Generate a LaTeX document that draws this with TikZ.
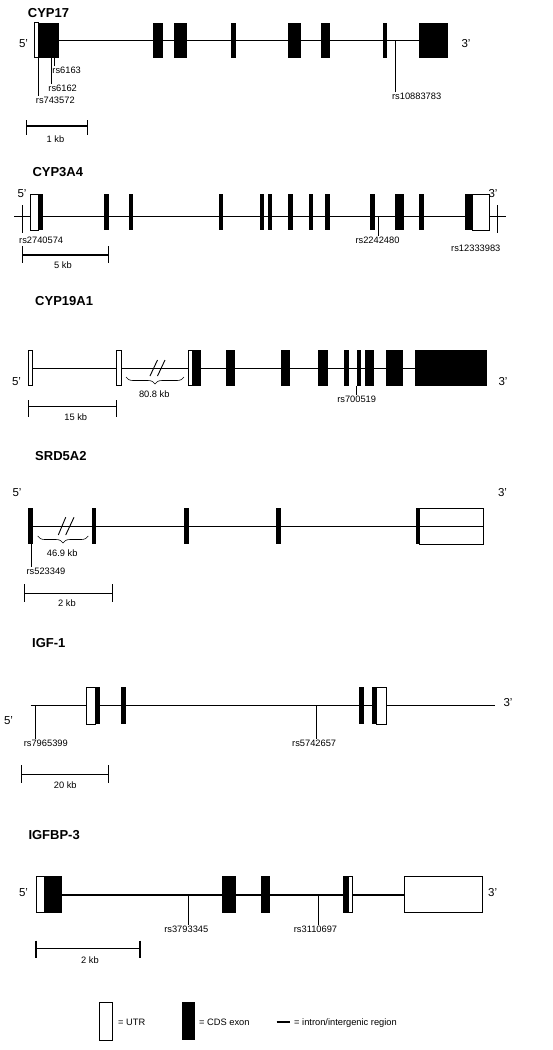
\documentclass[tikz,border=0pt]{standalone}
\usepackage{fontspec}
\setmainfont{Liberation Sans}
\usetikzlibrary{decorations.pathreplacing}

\begin{document}
\begin{tikzpicture}[x=1pt,y=-1pt,
  utr/.style={draw,fill=white,line width=0.8pt},
  cds/.style={fill=black},
  intron/.style={line width=1.1pt},
  snp/.style={line width=0.7pt},
  scalebar/.style={line width=1.2pt},
  cut/.style={line width=0.9pt},
  gap/.style={decorate,decoration={brace,mirror,amplitude=7pt},line width=0.6pt},
  genename/.style={font=\fontsize{13}{15}\selectfont\bfseries,anchor=west,inner sep=0pt},
  prime/.style={font=\fontsize{11.5}{13}\selectfont,inner sep=0pt},
  snplabel/.style={font=\fontsize{9.3}{11}\selectfont,inner sep=1pt}]
  \useasboundingbox (0,0) rectangle (552,1050);
  \fill[white] (0,0) rectangle (552,1050);

  % CYP17
  \node[genename] (cyp17) at (27.7,12.8) {CYP17};
  \node[prime] (cyp17five) at (23.5,44) {5'};
  \node[prime] (cyp17three) at (466,44) {3'};
  \draw[intron] (59.3,40.7) -- (419.3,40.7);
  \draw[utr] (34.3,22.7) rectangle (38.7,57.7);
  \foreach \a/\b in {38.7/59.3,153.3/162.7,173.7/186.7,230.7/236,288.3/301,321/330,382.7/387.3,419.3/448.3}
    \fill[cds] (\a,22.7) rectangle (\b,57.7);
  \node[snplabel] (rs6163) at (66.7,70.7) {rs6163};
  \node[snplabel] (rs6162) at (62.7,88) {rs6162};
  \node[snplabel] (rs743572) at (55.3,100.7) {rs743572};
  \node[snplabel] (rs10883783) at (416.7,96.7) {rs10883783};
  \draw[snp] (54.3,57.7) -- (54.3,57.7 |- rs6163.north);
  \draw[snp] (51,57.7) -- (51,57.7 |- rs6162.north);
  \draw[snp] (38.7,57.7) -- (38.7,57.7 |- rs743572.north);
  \draw[snp] (395,40.7) -- (395,40.7 |- rs10883783.north);
  \draw[scalebar] (26.7,120) -- (26.7,135) (26.7,126) -- (87.7,126) (87.7,120) -- (87.7,135);
  \node[snplabel] (kb17) at (55.5,139.5) {1 kb};

  % CYP3A4
  \node[genename] (cyp3a4) at (32.3,172.5) {CYP3A4};
  \node[prime] (cyp3a4five) at (22,193.3) {5'};
  \node[prime] (cyp3a4three) at (493,193.3) {3'};
  \draw[intron] (14.3,216.7) -- (506,216.7);
  \draw[utr] (30.7,194) rectangle (38.7,230);
  \draw[utr] (472.7,194) rectangle (489.3,230);
  \foreach \a/\b in {38.7/43.3,104/108.7,128.7/133.3,218.7/223.3,259.7/264.3,267.7/272.3,288.3/293.3,308.7/313.3,325/330,370.3/375,395.3/404,419.3/424,465/472.7}
    \fill[cds] (\a,194) rectangle (\b,230);
  \node[snplabel] (rs2740574) at (41.2,240) {rs2740574};
  \node[snplabel] (rs2242480) at (377.5,240) {rs2242480};
  \node[snplabel] (rs12333983) at (475.8,248.3) {rs12333983};
  \draw[snp] (22.3,205) -- (22.3,232.7);
  \draw[snp] (378.3,216.7) -- (378.3,216.7 |- rs2242480.north);
  \draw[snp] (497.3,205) -- (497.3,233);
  \draw[scalebar] (22.3,246) -- (22.3,263.3) (22.3,255) -- (108.3,255) (108.3,246) -- (108.3,263.3);
  \node[snplabel] (kb3a4) at (63,264.7) {5 kb};

  % CYP19A1
  \node[genename] (cyp19a1) at (35,301) {CYP19A1};
  \node[prime] (cyp19five) at (16.5,381.7) {5'};
  \node[prime] (cyp19three) at (503,381.7) {3'};
  \draw[intron] (30.7,368.3) -- (415.3,368.3);
  \draw[cut] (150,376) -- (157.5,360) (157.5,376) -- (165,360);
  \foreach \a/\b in {28.3/32.7,116.7/121.3,188.7/192.3}
    \draw[utr] (\a,350) rectangle (\b,385.7);
  \foreach \a/\b in {192.3/201.3,226/235,280.7/289.7,318.3/327.7,343.7/348.7,356.7/361,365/373.7,386/403,415.3/487.3}
    \fill[cds] (\a,350) rectangle (\b,385.7);
  \draw[gap] (126,377) -- (184,377);
  \node[snplabel] (gap19) at (154.3,394.3) {80.8 kb};
  \node[snplabel] (rs700519) at (356.7,399) {rs700519};
  \draw[snp] (356.7,385.7) -- (rs700519.north);
  \draw[scalebar] (28.3,400) -- (28.3,416.7) (28.3,406.7) -- (116.7,406.7) (116.7,400) -- (116.7,416.7);
  \node[snplabel] (kb19) at (75.8,417.3) {15 kb};

  % SRD5A2
  \node[genename] (srd5a2) at (35,456) {SRD5A2};
  \node[prime] (srdfive) at (17,493) {5'};
  \node[prime] (srdthree) at (502.5,493) {3'};
  \draw[utr] (419.3,508.3) rectangle (483.3,544.3);
  \draw[intron] (30.7,526.7) -- (483.3,526.7);
  \draw[cut] (58.3,535) -- (65.7,517.3) (65.7,535) -- (74,517.3);
  \foreach \a/\b in {28.3/32.7,91.7/96,184/188.7,276/281,415.7/419.3}
    \fill[cds] (\a,508.3) rectangle (\b,544.3);
  \draw[gap] (37.7,536) -- (88.3,536);
  \node[snplabel] (gapsrd) at (62.2,553.3) {46.9 kb};
  \node[snplabel] (rs523349) at (46,571) {rs523349};
  \draw[snp] (31.7,544.3) -- (31.7,544.3 |- rs523349.north);
  \draw[scalebar] (24.3,584) -- (24.3,601.7) (24.3,593.3) -- (112.3,593.3) (112.3,584) -- (112.3,601.7);
  \node[snplabel] (kbsrd) at (67,602.7) {2 kb};

  % IGF-1
  \node[genename] (igf1) at (32,643) {IGF-1};
  \node[prime] (igffive) at (8.5,721) {5'};
  \node[prime] (igfthree) at (508,703) {3'};
  \draw[intron] (30.7,705.7) -- (495,705.7);
  \draw[utr] (86.7,687.3) rectangle (95,724.3);
  \draw[utr] (376.7,687.3) rectangle (386,724.3);
  \foreach \a/\b in {95/100,120.7/126,359/364,371.7/376.7}
    \fill[cds] (\a,687.3) rectangle (\b,724.3);
  \node[snplabel] (rs7965399) at (45.8,743.3) {rs7965399};
  \node[snplabel] (rs5742657) at (314.2,743.3) {rs5742657};
  \draw[snp] (35,705.7) -- (35,705.7 |- rs7965399.north);
  \draw[snp] (316,705.7) -- (316,705.7 |- rs5742657.north);
  \draw[scalebar] (21.7,765) -- (21.7,783.3) (21.7,774.3) -- (108.3,774.3) (108.3,765) -- (108.3,783.3);
  \node[snplabel] (kbigf) at (65.3,785) {20 kb};

  % IGFBP-3
  \node[genename] (igfbp3) at (28.3,835) {IGFBP-3};
  \node[prime] (bpfive) at (23.5,893) {5'};
  \node[prime] (bpthree) at (492.7,893) {3'};
  \draw[intron] (62,895) -- (404.3,895);
  \foreach \a/\b in {36/44.7,348.7/352.7,404.3/482.3}
    \draw[utr] (\a,876) rectangle (\b,912.7);
  \foreach \a/\b in {44.7/62,221.7/236,261/270.3,343.3/348.7}
    \fill[cds] (\a,876) rectangle (\b,912.7);
  \node[snplabel] (rs3793345) at (186.3,929) {rs3793345};
  \node[snplabel] (rs3110697) at (315.5,929) {rs3110697};
  \draw[snp] (188.3,895) -- (188.3,895 |- rs3793345.north);
  \draw[snp] (318.3,895) -- (318.3,895 |- rs3110697.north);
  \draw[scalebar] (36,940.7) -- (36,958.3) (36,948.3) -- (140,948.3) (140,940.7) -- (140,958.3);
  \node[snplabel] (kbbp) at (90,960) {2 kb};

  % key
  \draw[utr] (99.3,1002.3) rectangle (112,1040);
  \node[snplabel,anchor=west] (keyutr) at (117,1022.7) {= UTR};
  \fill[cds] (181.7,1002.3) rectangle (195.3,1040);
  \node[snplabel,anchor=west] (keycds) at (198,1022.7) {= CDS exon};
  \draw[intron] (276.7,1022) -- (290,1022);
  \node[snplabel,anchor=west] (keyintron) at (293,1022.7) {= intron/intergenic region};
\end{tikzpicture}
\end{document}
